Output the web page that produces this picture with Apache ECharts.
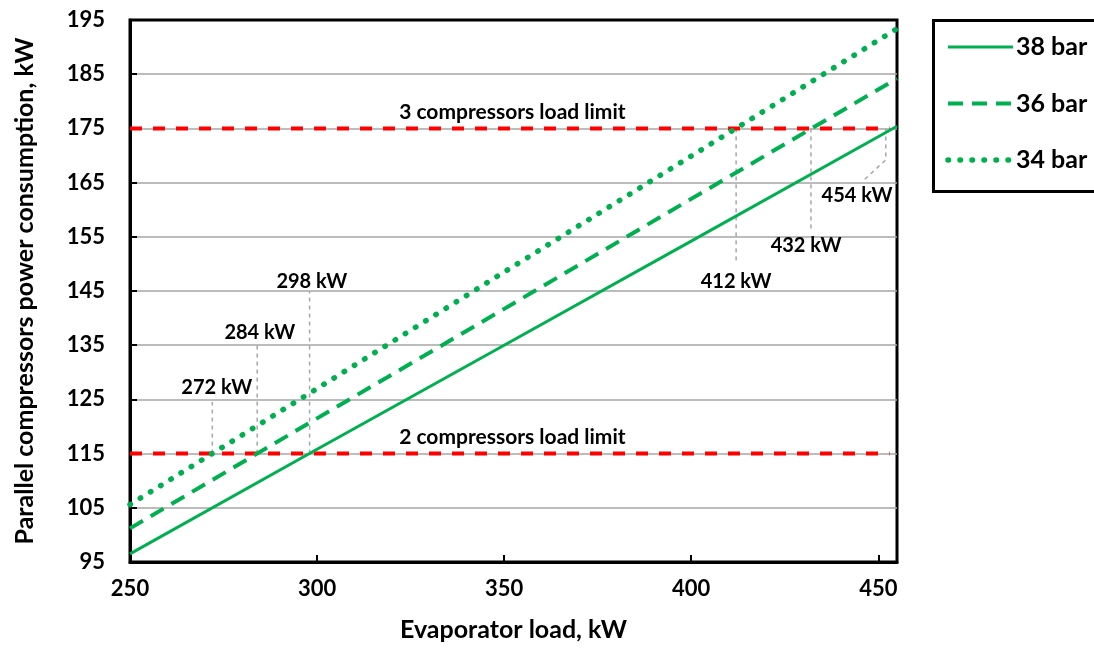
<!DOCTYPE html>
<html>
<head>
<meta charset="utf-8">
<script src="https://cdn.jsdelivr.net/npm/echarts@6/dist/echarts.min.js"></script>
<style>html,body{margin:0;padding:0;background:#fff;}#c{width:1094px;height:648px;}</style>
</head>
<body>
<div id="c"></div>
<script>
// ---- data ----
const loadX = [250, 300, 350, 400, 455];
const bar38 = [96.5, 115.8, 135.0, 154.2, 175.4];
const bar36 = [101.2, 121.5, 141.7, 162.0, 184.2];
const bar34 = [105.6, 127.0, 148.5, 169.9, 193.4];
const seriesNames = ['38 bar', '36 bar', '34 bar'];
const limit3 = 175;
const limit2 = 115;
const limitRange = [250, 453];
const xTicks = [250, 300, 350, 400, 450];
const yTicks = [95, 105, 115, 125, 135, 145, 155, 165, 175, 185, 195];
// drop lines (x, y end) for crossing points
const drops2 = [[272, 124.5], [284, 135], [298, 145]];
const drops3 = [[412, 150], [432, 156.5]];
const drop454 = [[452, 175], [452, 169.2], [446.2, 165.5]];
// annotation labels [x, y, text]
const limitLabels = [[352.2, 178.0, '3 compressors load limit'], [352.2, 118.1, '2 compressors load limit']];
const kwLabels = [[273.2, 127.1, '272 kW'], [284.7, 137.4, '284 kW'], [298.6, 146.8, '298 kW'],
                  [412, 146.8, '412 kW'], [430.7, 153.3, '432 kW'], [444.3, 162.7, '454 kW']];

const FONT = 'Lato';
const GREEN = '#00B050';
const zip = (xs, ys) => xs.map((x, i) => [x, ys[i]]);

const styles = [
  {color: GREEN, width: 3},
  {color: GREEN, width: 4, type: [15, 9]},
  {color: GREEN, width: 5.5, type: [0.5, 11.5], cap: 'round'}
];
const values = [bar38, bar36, bar34];

const series = [];
values.forEach((vals, i) => series.push({name: seriesNames[i], type: 'line', data: zip(loadX, vals),
  symbol: 'none', z: 5, lineStyle: styles[i], itemStyle: {color: GREEN}}));

[limit3, limit2].forEach(v => series.push({type: 'line', data: [[limitRange[0], v], [limitRange[1], v]],
  symbol: 'none', z: 4, silent: true, lineStyle: {color: '#FF0000', width: 4, type: [12, 11]}}));

const grayDash = {color: '#A6A6A6', width: 1.5, type: [4, 4]};
drops2.forEach(d => series.push({type: 'line', data: [[d[0], limit2], [d[0], d[1]]], symbol: 'none', z: 3, silent: true, lineStyle: grayDash}));
drops3.forEach(d => series.push({type: 'line', data: [[d[0], limit3], [d[0], d[1]]], symbol: 'none', z: 3, silent: true, lineStyle: grayDash}));
series.push({type: 'line', data: drop454, symbol: 'none', z: 3, silent: true, lineStyle: grayDash});

const labelStyle = {show: true, position: 'inside', formatter: p => p.name, color: '#000',
  textBorderWidth: 0, textBorderColor: 'transparent', opacity: 1,
  fontFamily: FONT, fontWeight: 'bold'};
series.push({type: 'scatter', symbolSize: 0, z: 6, silent: true, itemStyle: {color: '#000', opacity: 1},
  data: limitLabels.map(l => ({value: [l[0], l[1]], name: l[2]})),
  label: Object.assign({}, labelStyle, {fontSize: 21})});
series.push({type: 'scatter', symbolSize: 0, z: 6, silent: true, itemStyle: {color: '#000', opacity: 1},
  data: kwLabels.map(l => ({value: [l[0], l[1]], name: l[2]})),
  label: Object.assign({}, labelStyle, {fontSize: 20})});

// legend drawn as graphic (box partly off canvas as in reference)
const legendGraphic = [{type: 'rect', left: 932, top: 19, shape: {x: 0, y: 0, width: 200, height: 171},
  style: {fill: '#fff', stroke: '#000', lineWidth: 3}, z: 10}];
seriesNames.forEach((n, i) => {
  const y = 47 + i * 56.5;
  legendGraphic.push({type: 'line', shape: {x1: 948, y1: y, x2: 1013, y2: y},
    style: {stroke: styles[i].color, lineWidth: styles[i].width, lineDash: styles[i].type || null,
      lineCap: styles[i].cap || 'butt'}, z: 11});
  legendGraphic.push({type: 'text', x: 1016, y: y, style: {text: n, fill: '#000', font: 'bold 25px ' + FONT,
    textVerticalAlign: 'middle', verticalAlign: 'middle', textAlign: 'left', align: 'left'}, z: 11});
});

const option = {
  animation: false,
  backgroundColor: '#fff',
  grid: {left: 130, top: 20, right: 197, bottom: 86, show: true, borderColor: '#000', borderWidth: 3, containLabel: false},
  graphic: legendGraphic,
  xAxis: {
    type: 'value', min: 250, max: 455, interval: 50,
    name: 'Evaporator load, kW', nameLocation: 'middle', nameGap: 55,
    nameTextStyle: {fontFamily: FONT, fontWeight: 'bold', fontSize: 25, color: '#000'},
    axisLine: {show: true, lineStyle: {color: '#000', width: 3}},
    axisTick: {show: true, inside: true, length: 7, lineStyle: {color: '#000', width: 2}},
    axisLabel: {fontFamily: FONT, fontWeight: 'bold', fontSize: 22, color: '#000', margin: 16,
      formatter: v => xTicks.includes(v) ? String(v) : ''},
    splitLine: {show: false}
  },
  yAxis: {
    type: 'value', min: 95, max: 195, interval: 10,
    name: 'Parallel compressors power consumption, kW', nameLocation: 'middle', nameGap: 93, nameRotate: 90,
    nameTextStyle: {fontFamily: FONT, fontWeight: 'bold', fontSize: 25, color: '#000'},
    axisLine: {show: true, lineStyle: {color: '#000', width: 3}},
    axisTick: {show: true, inside: true, length: 7, lineStyle: {color: '#000', width: 2}},
    axisLabel: {fontFamily: FONT, fontWeight: 'bold', fontSize: 22, color: '#000', margin: 25,
      formatter: v => yTicks.includes(v) ? String(v) : ''},
    splitLine: {show: true, showMaxLine: false, showMinLine: false, lineStyle: {color: '#A6A6A6', width: 1.5}}
  },
  series: series
};
const chart = echarts.init(document.getElementById('c'));
chart.setOption(option);
</script>
</body>
</html>
